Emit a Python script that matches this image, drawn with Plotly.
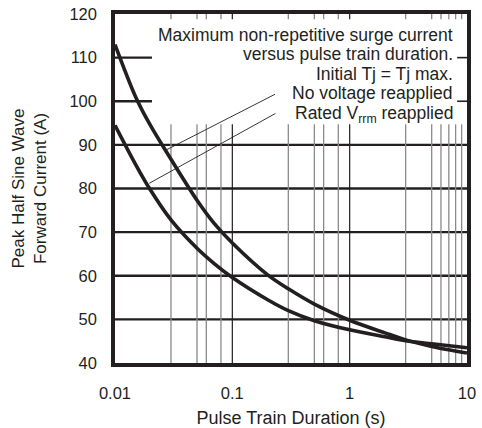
import plotly.graph_objects as go

# ---- data ----
duration_s = [0.01, 0.015, 0.02, 0.03, 0.05, 0.07, 0.1, 0.2, 0.3, 0.5, 1, 2, 3, 5, 10]
no_voltage_reapplied = [113, 101, 94.5, 86.7, 77.3, 72, 67.5, 60.2, 57.0, 53.5, 49.8, 46.9, 45.3, 43.8, 42.3]
rated_vrrm_reapplied = [94.5, 85.5, 79.7, 72.8, 66.3, 62.8, 59.6, 54.5, 52, 49.7, 47.6, 46.0, 45.1, 44.4, 43.5]

x_tick_vals = [0.01, 0.1, 1, 10]
x_tick_text = ["0.01", "0.1", "1", "10"]
y_tick_vals = [40, 50, 60, 70, 80, 90, 100, 110, 120]

minor_v_lines = [0.03, 0.05, 0.06, 0.08, 0.3, 0.5, 0.6, 0.8, 3, 5, 6, 7, 8, 9]
major_v_lines = [0.1, 1]
full_h_lines = [50, 60, 70, 80, 90]
short_h_lines = [100, 110]
v_line_top = 94.7

note_lines = [
    "Maximum non-repetitive surge current",
    "versus pulse train duration.",
    "Initial Tj = Tj max.",
    "No voltage reapplied",
    "Rated V<sub>rrm</sub> reapplied",
]
note_y = [115.19, 110.77, 106.36, 102.0, 97.0]

# leader lines: (x_start, y_start, x_end, y_end)
leader_lines = [
    (0.231, 101.6, 0.0267, 88.7),
    (0.233, 97.2, 0.0196, 81.2),
]

FONT = "Liberation Sans, Arial, Helvetica, sans-serif"
INK = "#231f20"

fig = go.Figure()
fig.add_trace(go.Scatter(x=duration_s, y=no_voltage_reapplied, mode="lines",
                         line=dict(color=INK, width=3.6, shape="spline", smoothing=0.9),
                         name="No voltage reapplied", showlegend=False, hoverinfo="skip"))
fig.add_trace(go.Scatter(x=duration_s, y=rated_vrrm_reapplied, mode="lines",
                         line=dict(color=INK, width=3.6, shape="spline", smoothing=0.9),
                         name="Rated Vrrm reapplied", showlegend=False, hoverinfo="skip"))

shapes = []
for v in minor_v_lines:
    shapes.append(dict(type="line", xref="x", yref="y", x0=v, x1=v, y0=40, y1=v_line_top,
                       line=dict(color="#8a8a8a", width=1.3), layer="below"))
    shapes.append(dict(type="line", xref="x", yref="paper", x0=v, x1=v, y0=1, y1=0.985,
                       line=dict(color="#8a8a8a", width=1.3), layer="below"))
for v in major_v_lines:
    shapes.append(dict(type="line", xref="x", yref="y", x0=v, x1=v, y0=40, y1=v_line_top,
                       line=dict(color=INK, width=1.2), layer="below"))
    shapes.append(dict(type="line", xref="x", yref="paper", x0=v, x1=v, y0=1, y1=0.985,
                       line=dict(color=INK, width=1.2), layer="below"))
for h in full_h_lines:
    shapes.append(dict(type="line", xref="paper", yref="y", x0=0, x1=1, y0=h, y1=h,
                       line=dict(color=INK, width=2.4), layer="below"))
for h in short_h_lines:
    shapes.append(dict(type="line", xref="paper", yref="y", x0=0, x1=0.105, y0=h, y1=h,
                       line=dict(color=INK, width=2.4), layer="below"))
    shapes.append(dict(type="line", xref="paper", yref="y", x0=0.972, x1=1, y0=h, y1=h,
                       line=dict(color=INK, width=1.6), layer="below"))
for (xs, ys, xe, ye) in leader_lines:
    shapes.append(dict(type="line", xref="x", yref="y", x0=xs, y0=ys, x1=xe, y1=ye,
                       line=dict(color=INK, width=0.9)))

annotations = []
for txt, yv in zip(note_lines, note_y):
    annotations.append(dict(text=txt, xref="paper", yref="y", x=0.962, y=yv,
                            xanchor="right", yanchor="middle", showarrow=False, borderpad=0,
                            font=dict(family=FONT, size=17.5, color=INK)))

fig.update_layout(
    width=482, height=428,
    margin=dict(l=115, r=15, t=14, b=65, autoexpand=False),
    paper_bgcolor="white", plot_bgcolor="white",
    font=dict(family=FONT, size=16.5, color=INK),
    shapes=shapes, annotations=annotations,
    xaxis=dict(type="log", range=[-2, 1], tickvals=x_tick_vals, ticktext=x_tick_text,
               showgrid=False, zeroline=False, showline=True, linecolor=INK, linewidth=3.5,
               mirror=True, ticks="", ticklabelstandoff=12, automargin=False,
               title=dict(text="Pulse Train Duration (s)", font=dict(size=18), standoff=12)),
    yaxis=dict(range=[40, 120], tickvals=y_tick_vals,
               showgrid=False, zeroline=False, showline=True, linecolor=INK, linewidth=3.5,
               mirror=True, ticks="", ticklabelstandoff=11, automargin=False,
               title=dict(text="Peak Half Sine Wave<br>Forward Current (A)", font=dict(size=17),
                          standoff=19)),
)

fig.write_html("out.html", config={"displayModeBar": False},
               post_script="document.body.style.margin='0px';")
